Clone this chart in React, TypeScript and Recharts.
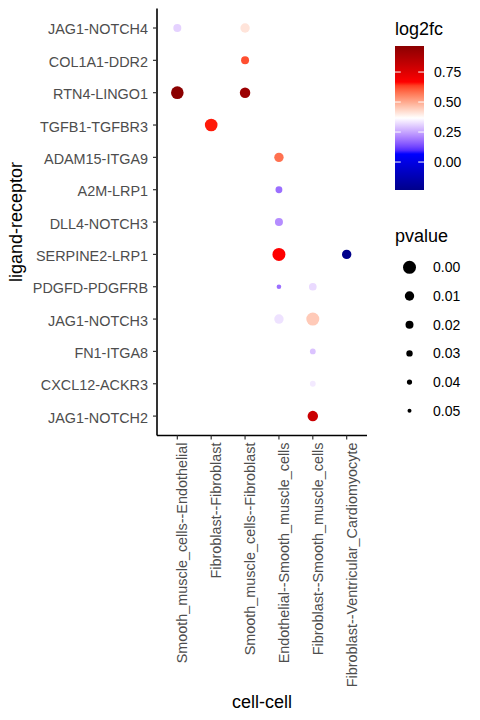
import React from 'react';
import { ScatterChart, Scatter, XAxis, YAxis } from 'recharts';

// x categories (cell-cell pairs), left to right
const cellPairs = [
  'Smooth_muscle_cells--Endothelial',
  'Fibroblast--Fibroblast',
  'Smooth_muscle_cells--Fibroblast',
  'Endothelial--Smooth_muscle_cells',
  'Fibroblast--Smooth_muscle_cells',
  'Fibroblast--Ventricular_Cardiomyocyte',
];

// y categories (ligand-receptor), top to bottom
const ligandReceptors = [
  'JAG1-NOTCH4',
  'COL1A1-DDR2',
  'RTN4-LINGO1',
  'TGFB1-TGFBR3',
  'ADAM15-ITGA9',
  'A2M-LRP1',
  'DLL4-NOTCH3',
  'SERPINE2-LRP1',
  'PDGFD-PDGFRB',
  'JAG1-NOTCH3',
  'FN1-ITGA8',
  'CXCL12-ACKR3',
  'JAG1-NOTCH2',
];

// one entry per dot
const pointLR = [
  'JAG1-NOTCH4', 'JAG1-NOTCH4', 'COL1A1-DDR2', 'RTN4-LINGO1', 'RTN4-LINGO1',
  'TGFB1-TGFBR3', 'ADAM15-ITGA9', 'A2M-LRP1', 'DLL4-NOTCH3', 'SERPINE2-LRP1',
  'SERPINE2-LRP1', 'PDGFD-PDGFRB', 'PDGFD-PDGFRB', 'JAG1-NOTCH3', 'JAG1-NOTCH3',
  'FN1-ITGA8', 'CXCL12-ACKR3', 'JAG1-NOTCH2',
];
const pointCell = [
  'Smooth_muscle_cells--Endothelial', 'Smooth_muscle_cells--Fibroblast',
  'Smooth_muscle_cells--Fibroblast', 'Smooth_muscle_cells--Endothelial',
  'Smooth_muscle_cells--Fibroblast', 'Fibroblast--Fibroblast',
  'Endothelial--Smooth_muscle_cells', 'Endothelial--Smooth_muscle_cells',
  'Endothelial--Smooth_muscle_cells', 'Endothelial--Smooth_muscle_cells',
  'Fibroblast--Ventricular_Cardiomyocyte', 'Endothelial--Smooth_muscle_cells',
  'Fibroblast--Smooth_muscle_cells', 'Endothelial--Smooth_muscle_cells',
  'Fibroblast--Smooth_muscle_cells', 'Fibroblast--Smooth_muscle_cells',
  'Fibroblast--Smooth_muscle_cells', 'Fibroblast--Smooth_muscle_cells',
];
const pointLog2fc = [
  0.31, 0.41, 0.62, 0.967, 0.92, 0.66, 0.58, 0.18, 0.22, 0.67,
  -0.233, 0.18, 0.32, 0.33, 0.45, 0.29, 0.34, 0.8,
];
const pointPvalue = [
  0.02, 0.01, 0.02, 0.001, 0.007, 0.001, 0.01, 0.027, 0.02, 0.0,
  0.01, 0.045, 0.022, 0.01, 0.0, 0.035, 0.035, 0.007,
];

// legends
const colorTicks = [0, 0.25, 0.5, 0.75];
const pvalueTicks = [0, 0.01, 0.02, 0.03, 0.04, 0.05];
const pvalueRadii = [6.5, 4.7, 4.0, 3.2, 2.6, 2.0];

const FONT = '"Liberation Sans", Arial, sans-serif';

// ---- colour scale (Lab interpolation like ggplot's gradientn) ----
const fcMin = Math.min(...pointLog2fc);
const fcMax = Math.max(...pointLog2fc);
const rampColors = ['#00008B', '#0000FF', '#FFFFFF', '#FF0000', '#8B0000'];

function hexToLab(hex: string) {
  const c = [1, 3, 5].map(i => parseInt(hex.slice(i, i + 2), 16) / 255)
    .map(v => (v <= 0.04045 ? v / 12.92 : Math.pow((v + 0.055) / 1.055, 2.4)));
  const X = (0.4124 * c[0] + 0.3576 * c[1] + 0.1805 * c[2]) / 0.95047;
  const Y = 0.2126 * c[0] + 0.7152 * c[1] + 0.0722 * c[2];
  const Z = (0.0193 * c[0] + 0.1192 * c[1] + 0.9505 * c[2]) / 1.08883;
  const f = (t: number) => (t > 0.008856 ? Math.cbrt(t) : 7.787 * t + 16 / 116);
  return [116 * f(Y) - 16, 500 * (f(X) - f(Y)), 200 * (f(Y) - f(Z))];
}

function labToHex(lab: number[]) {
  const fy = (lab[0] + 16) / 116;
  const fx = fy + lab[1] / 500;
  const fz = fy - lab[2] / 200;
  const inv = (t: number) => (t * t * t > 0.008856 ? t * t * t : (t - 16 / 116) / 7.787);
  const X = 0.95047 * inv(fx), Y = inv(fy), Z = 1.08883 * inv(fz);
  const lin = [
    3.2406 * X - 1.5372 * Y - 0.4986 * Z,
    -0.9689 * X + 1.8758 * Y + 0.0415 * Z,
    0.0557 * X - 0.204 * Y + 1.057 * Z,
  ];
  return '#' + lin.map(v => {
    const s = v <= 0.0031308 ? 12.92 * v : 1.055 * Math.pow(v, 1 / 2.4) - 0.055;
    const n = Math.round(Math.min(1, Math.max(0, s)) * 255);
    return n.toString(16).padStart(2, '0');
  }).join('');
}

const rampLab = rampColors.map(hexToLab);

function fcColor(v: number) {
  const t = Math.min(1, Math.max(0, (v - fcMin) / (fcMax - fcMin))) * (rampLab.length - 1);
  const i = Math.min(rampLab.length - 2, Math.floor(t));
  const u = t - i;
  return labToHex(rampLab[i].map((a, k) => a + (rampLab[i + 1][k] - a) * u));
}

function pRadius(p: number) {
  for (let i = 0; i < pvalueTicks.length - 1; i++) {
    if (p <= pvalueTicks[i + 1]) {
      const u = (p - pvalueTicks[i]) / (pvalueTicks[i + 1] - pvalueTicks[i]);
      return pvalueRadii[i] + (pvalueRadii[i + 1] - pvalueRadii[i]) * u;
    }
  }
  return pvalueRadii[pvalueRadii.length - 1];
}

const data = pointLR.map((lr, i) => ({
  x: cellPairs.indexOf(pointCell[i]),
  y: ligandReceptors.indexOf(lr),
  log2fc: pointLog2fc[i],
  pvalue: pointPvalue[i],
}));

const Dot = (props: any) => {
  const { cx, cy, payload } = props;
  return <circle cx={cx} cy={cy} r={pRadius(payload.pvalue)} fill={fcColor(payload.log2fc)} />;
};

const XTick = ({ x, y, payload }: any) => (
  <text
    x={x}
    y={y}
    transform={`rotate(-90, ${x}, ${y})`}
    textAnchor="end"
    dy={10}
    fontSize={14.4}
    fontFamily={FONT}
    fill="#4d4d4d"
  >
    {cellPairs[payload.value]}
  </text>
);

const YTick = ({ x, y, payload }: any) => (
  <text x={x} y={y} textAnchor="end" dy="0.45em" fontSize={14.4} fontFamily={FONT} fill="#4d4d4d">
    {ligandReceptors[payload.value]}
  </text>
);

const Legends = () => {
  const barTop = 46;
  const barBottom = 190;
  const barLeft = 395;
  const barW = 29;
  const yOf = (v: number) => barBottom - ((v - fcMin) / (fcMax - fcMin)) * (barBottom - barTop);
  const stops = Array.from({ length: 41 }, (_, i) => i / 40);
  return (
    <svg width={480} height={720} style={{ position: 'absolute', left: 0, top: 0 }}>
      <defs>
        <linearGradient id="fcbar" x1="0" y1="1" x2="0" y2="0">
          {stops.map(s => (
            <stop key={s} offset={s} stopColor={fcColor(fcMin + s * (fcMax - fcMin))} />
          ))}
        </linearGradient>
      </defs>
      <text x={barLeft} y={35} fontSize={18} fontFamily={FONT} fill="#000">log2fc</text>
      <rect x={barLeft} y={barTop} width={barW} height={barBottom - barTop} fill="url(#fcbar)" />
      {colorTicks.map(v => (
        <g key={v}>
          <line x1={barLeft} x2={barLeft + 5.8} y1={yOf(v)} y2={yOf(v)} stroke="#fff" strokeWidth={1} />
          <line x1={barLeft + barW - 5.8} x2={barLeft + barW} y1={yOf(v)} y2={yOf(v)} stroke="#fff" strokeWidth={1} />
          <text x={434} y={yOf(v)} dy="0.355em" fontSize={14} fontFamily={FONT} fill="#000">
            {v.toFixed(2)}
          </text>
        </g>
      ))}
      <text x={barLeft} y={242} fontSize={18} fontFamily={FONT} fill="#000">pvalue</text>
      {pvalueTicks.map((p, i) => (
        <g key={p}>
          <circle cx={409.5} cy={267.3 + i * 28.7} r={pvalueRadii[i]} fill="#000" />
          <text x={433} y={267.3 + i * 28.7} dy="0.355em" fontSize={14} fontFamily={FONT} fill="#000">
            {p.toFixed(2)}
          </text>
        </g>
      ))}
      <text
        x={16}
        y={222}
        transform="rotate(-90, 16, 222)"
        textAnchor="middle"
        dy="0.355em"
        fontSize={18}
        fontFamily={FONT}
        fill="#000"
      >
        ligand-receptor
      </text>
      <text x={262} y={708} textAnchor="middle" fontSize={18} fontFamily={FONT} fill="#000">
        cell-cell
      </text>
    </svg>
  );
};

export default function App() {
  return (
    <div style={{ position: 'absolute', left: 0, top: 0, width: 480, height: 720, background: '#fff' }}>
      <ScatterChart width={480} height={720} margin={{ top: 8.6, right: 113, bottom: 0, left: 0 }}>
        <XAxis
          type="number"
          dataKey="x"
          domain={[-0.6, 5.6]}
          ticks={[0, 1, 2, 3, 4, 5]}
          interval={0}
          height={284.5}
          axisLine={{ stroke: '#000', strokeWidth: 1.6 }}
          tickLine={{ stroke: '#333', strokeWidth: 1.2 }}
          tickSize={4}
          tickMargin={3}
          tick={<XTick />}
        />
        <YAxis
          type="number"
          dataKey="y"
          domain={[-0.6, 12.6]}
          reversed
          ticks={[0, 1, 2, 3, 4, 5, 6, 7, 8, 9, 10, 11, 12]}
          interval={0}
          width={157}
          axisLine={{ stroke: '#000', strokeWidth: 1.6 }}
          tickLine={{ stroke: '#333', strokeWidth: 1.2 }}
          tickSize={4}
          tickMargin={5}
          tick={<YTick />}
        />
        <Scatter data={data} shape={<Dot />} isAnimationActive={false} />
      </ScatterChart>
      <Legends />
    </div>
  );
}
